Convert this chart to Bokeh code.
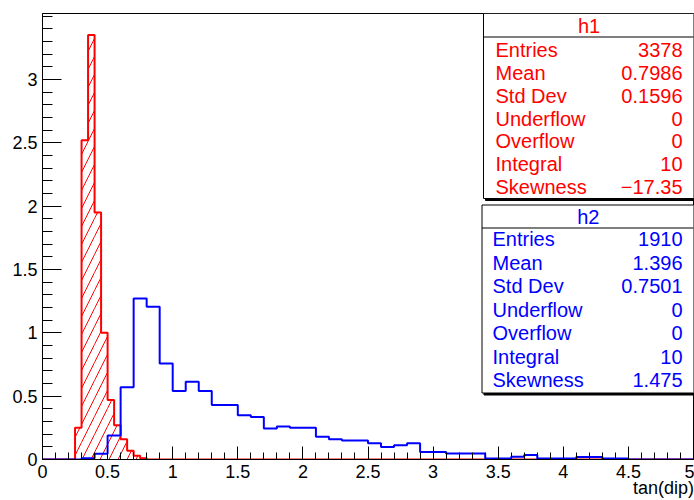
import numpy as np
from bokeh.plotting import figure
from bokeh.models import FixedTicker, Label, BoxAnnotation, CustomJSTickFormatter, Range1d
from bokeh.embed import file_html
from bokeh.resources import INLINE

# ---------------- data ----------------
x_min, x_max = 0.0, 5.0
y_max = 3.52

# h1 (red, hatched): 100 bins of width 0.05, non-empty bins start at 0.25
h1_bin_width = 0.05
h1_first_edge = 0.25
h1_counts = [0.25, 2.52, 3.35, 1.95, 1.00, 0.47, 0.27, 0.16, 0.07, 0.03, 0.01]

# h2 (blue): 50 bins of width 0.1, non-empty bins start at 0.3
h2_bin_width = 0.1
h2_first_edge = 0.3
h2_counts = [0.01, 0.045, 0.19, 0.57, 1.27, 1.205, 0.757, 0.54, 0.613, 0.54,
             0.43, 0.43, 0.349, 0.336, 0.244, 0.26, 0.25, 0.25, 0.18, 0.16,
             0.15, 0.15, 0.128, 0.099, 0.112, 0.128, 0.059, 0.059, 0.047, 0.047,
             0.047, 0.008, 0.008, 0.022, 0.036, 0.008, 0.008, 0.008, 0.02, 0.02,
             0.008, 0.008]

x_major_ticks = [0, 0.5, 1, 1.5, 2, 2.5, 3, 3.5, 4, 4.5, 5]
y_major_ticks = [0, 0.5, 1, 1.5, 2, 2.5, 3]
x_title = "tan(dip)"

stat_labels = ["Entries", "Mean", "Std Dev", "Underflow", "Overflow", "Integral", "Skewness"]
h1_name = "h1"
h1_stats = ["3378", "0.7986", "0.1596", "0", "0", "10", "\u221217.35"]
h2_name = "h2"
h2_stats = ["1910", "1.396", "0.7501", "0", "0", "10", "1.475"]

# ---------------- helpers ----------------
def full_hist(first_edge, width, counts):
    nb = int(round((x_max - x_min) / width))
    edges = x_min + width * np.arange(nb + 1)
    vals = np.zeros(nb)
    i0 = int(round((first_edge - x_min) / width))
    vals[i0:i0 + len(counts)] = counts
    return edges, vals

e1, v1 = full_hist(h1_first_edge, h1_bin_width, h1_counts)
e2, v2 = full_hist(h2_first_edge, h2_bin_width, h2_counts)

RED = "#ff0000"
BLUE = "#0000ff"
FONT = "Liberation Sans"

# frame geometry (canvas px)
W, H = 694, 500
FL, FT, FR, FB = 42, 13, 693, 459
TEXT_SHIFT = -7  # baseline correction

p = figure(width=W, height=H, output_backend="svg", toolbar_location=None,
           x_range=Range1d(x_min, x_max), y_range=Range1d(0, y_max),
           min_border_left=FL, min_border_right=W - FR, min_border_top=FT,
           min_border_bottom=H - FB)
p.xgrid.visible = False
p.ygrid.visible = False
p.background_fill_color = "white"
p.border_fill_color = "white"
p.outline_line_color = "black"
p.outline_line_width = 1

# red hatched fill
nz = v1 > 0
p.quad(left=e1[:-1][nz], right=e1[1:][nz], bottom=0, top=v1[nz],
       fill_color=None, line_color=None, hatch_pattern="/", hatch_color=RED,
       hatch_scale=18, hatch_weight=1)
# outlines
p.step(x=e1, y=np.append(v1, v1[-1]), mode="after", line_color=RED, line_width=2)
p.step(x=e2, y=np.append(v2, v2[-1]), mode="after", line_color=BLUE, line_width=2)

# axes
fmt = CustomJSTickFormatter(code="return String(Math.round(tick*10)/10);")
p.xaxis.ticker = FixedTicker(ticks=x_major_ticks, minor_ticks=list(np.round(np.arange(0, 5.001, 0.1), 2)))
p.yaxis.ticker = FixedTicker(ticks=y_major_ticks, minor_ticks=list(np.round(np.arange(0, 3.501, 0.1), 2)))
for ax in (p.xaxis[0], p.yaxis[0]):
    ax.formatter = fmt
    ax.major_label_text_font = FONT
    ax.major_label_text_font_size = "18px"
    ax.major_label_text_color = "black"
    ax.axis_line_color = "black"
    ax.major_tick_line_color = "black"
    ax.minor_tick_line_color = "black"
    ax.major_tick_out = 0
    ax.minor_tick_out = 0
p.xaxis.major_tick_in = 13
p.xaxis.minor_tick_in = 7
p.yaxis.major_tick_in = 19
p.yaxis.minor_tick_in = 10
p.xaxis.major_label_standoff = 5
p.yaxis.major_label_standoff = 5

# x title: the axis centres its label on the axis end, so pad it on the right
xa = p.xaxis[0]
xa.axis_label = x_title + "\u00a0" * 12
xa.axis_label_text_font = FONT
xa.axis_label_text_font_size = "18px"
xa.axis_label_text_font_style = "normal"
xa.axis_label_text_color = "black"
xa.axis_label_standoff = -3
for _align in ("end", "right"):
    try:
        xa.axis_label_align = _align
        break
    except Exception:
        pass

def sx(px):
    return px - FL

def sy(py):
    return FB - py

def add_text(text, px, py, color, align="left", size="20px"):
    p.add_layout(Label(x=sx(px), y=sy(py + TEXT_SHIFT), x_units="screen", y_units="screen",
                       text=text, text_font=FONT, text_font_size=size,
                       text_color=color, text_align=align, text_baseline="alphabetic"))

def add_box(l, t, r, b, color="black", fill="white", lw=1):
    p.add_layout(BoxAnnotation(left=sx(l), right=sx(r), top=sy(t), bottom=sy(b),
                               left_units="screen", right_units="screen",
                               top_units="screen", bottom_units="screen",
                               fill_color=fill, fill_alpha=1, line_color=color,
                               line_alpha=1, line_width=lw))

def stat_box(name, stats, color, l, t, b, sep, label_x, val_x, row0, dy):
    add_box(l + 2, t + 2, 700, b + 2, color="black", fill="black")
    add_box(l, t, 700, b)
    add_box(l, sep, 700, sep + 1, color="black", fill="black", lw=0)
    add_text(name, (l + 694) / 2, sep - 4, color, align="center")
    for i, (lab, val) in enumerate(zip(stat_labels, stats)):
        yb = row0 + i * dy
        add_text(lab, label_x, yb, color)
        add_text(val, val_x, yb, color, align="right")

stat_box(h1_name, h1_stats, RED, 483, 13, 198, 36, 495, 682, 56.7, 22.8)
stat_box(h2_name, h2_stats, BLUE, 481.5, 204.5, 392.5, 227, 492, 682, 245.7, 23.5)

open("out.html", "w").write(file_html(p, INLINE))
